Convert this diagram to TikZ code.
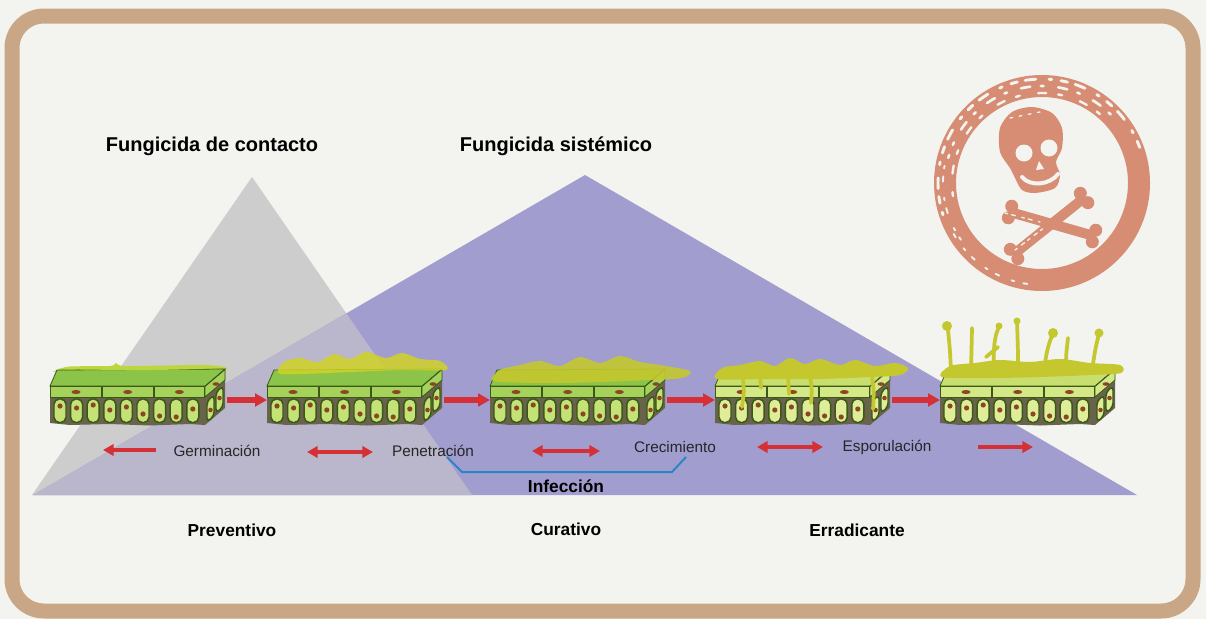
\documentclass[tikz,border=0pt]{standalone}
\usepackage{fontspec}
\setmainfont{Liberation Sans}
\usetikzlibrary{arrows.meta}

\definecolor{frame}{RGB}{201,167,134}
\definecolor{paper}{RGB}{243,243,239}
\definecolor{contactgray}{RGB}{205,205,205}
\definecolor{systemic}{RGB}{162,157,207}
\definecolor{overlap}{RGB}{186,182,204}
\definecolor{arrowred}{RGB}{212,48,54}
\definecolor{tissue}{RGB}{104,99,74}
\definecolor{cellline}{RGB}{58,88,22}
\definecolor{nucleus}{RGB}{140,70,38}
\definecolor{leafA}{RGB}{140,196,74}
\definecolor{epiA}{RGB}{164,210,90}
\definecolor{cellA}{RGB}{196,226,118}
\definecolor{leafB}{RGB}{200,222,110}
\definecolor{epiB}{RGB}{212,232,135}
\definecolor{cellB}{RGB}{224,237,152}
\definecolor{fungus}{RGB}{196,200,46}
\definecolor{fungusthin}{RGB}{190,214,62}
\definecolor{skull}{RGB}{214,141,116}
\definecolor{bracket}{RGB}{42,133,200}

\tikzset{
  stepflow/.style={draw=arrowred, line width=4.5pt, -{Triangle[length=9pt,width=9.5pt]}},
  timeflow/.style={draw=arrowred, line width=3.5pt, -{Triangle[length=8pt,width=8.5pt]}},
  timeboth/.style={draw=arrowred, line width=3.5pt, {Triangle[length=8pt,width=8.5pt]}-{Triangle[length=8pt,width=8.5pt]}},
  heading/.style={font=\fontsize{15}{18}\selectfont\bfseries},
  phase/.style={font=\fontsize{13}{16}\selectfont\bfseries},
  stagelabel/.style={font=\fontsize{11.5}{14}\selectfont, text=black!85},
  cellwall/.style={draw=cellline, line width=0.6pt},
  hypha/.style={draw=fungus, line width=2.8pt, line cap=round},
  wear/.style={draw=paper, line cap=round},
}

% one slice of leaf tissue: #1,#2 front-left corner, #3 top face, #4 epidermis, #5 palisade cells
\newcommand\leafblock[5]{%
  \begin{scope}[shift={(#1,#2)}]
    \fill[tissue] (0,0) -- (0,37) -- (20,39) -- (60,38) -- (100,39.5) -- (140,38) -- (155,39) -- (175,22) -- (175,-17) -- (155,0) -- cycle;
    \filldraw[fill=#3, cellwall] (0,0) -- (7,-16) -- (175,-17) -- (155,0) -- cycle;
    \foreach \i in {0,1,2} {
      \filldraw[fill=#4, cellwall] ({\i*51.7+0.5},0.5) rectangle ({\i*51.7+51.2},11);
      \fill[nucleus] ({\i*51.7+26},6) ellipse [x radius=4.5, y radius=2];
    }
    \filldraw[fill=#4, cellwall] (155,0.5) -- (175,-16.5) -- (175,-6) -- (155,11) -- cycle;
    \fill[nucleus] (166,-2) ellipse [x radius=3.5, y radius=1.8];
    \foreach \i/\ny in {0/20,1/22,2/19,3/24,4/21,5/28,6/30,7/31,8/23} {
      \filldraw[fill=#5, draw=cellline, line width=1.1pt, rounded corners=4pt] ({4+\i*16.6},13) rectangle ({16+\i*16.6},36.5);
      \fill[nucleus] ({10+\i*16.6},\ny) circle (2.6);
    }
    \filldraw[fill=#5, draw=cellline, line width=1.1pt, rounded corners=3pt] (157,15) -- (164,9) -- (164,30) -- (157,36) -- cycle;
    \fill[nucleus] (160.5,24) circle (2.3);
    \filldraw[fill=#5, draw=cellline, line width=1.1pt, rounded corners=3pt] (166,6) -- (173,0) -- (173,21) -- (166,27) -- cycle;
    \fill[nucleus] (169.5,12) circle (2.3);
  \end{scope}}

\begin{document}
\begin{tikzpicture}[x=0.75pt, y=-0.75pt]
\useasboundingbox (0,0) rectangle (1206,619);
\fill[paper] (0,0) rectangle (1206,619);

% fungicide ranges
\fill[contactgray] (32,495) -- (252,177) -- (472,495) -- cycle;
\fill[systemic] (33,495) -- (585,175) -- (1137,495) -- cycle;
\begin{scope}
  \clip (32,495) -- (252,177) -- (472,495) -- cycle;
  \fill[overlap] (33,495) -- (585,175) -- (1137,495) -- cycle;
\end{scope}

% frame
\draw[frame, line width=11.25pt, rounded corners=24pt] (12,16) rectangle (1193,611);

% headings
\node[heading] (contact) at (212,146) {Fungicida de contacto};
\node[heading] (systemictitle) at (556,146) {Fungicida sistémico};

% leaf tissue at each stage
\fill[fungusthin] plot[smooth cycle] coordinates {(58,370) (70,366.5) (110,366) (116,363) (126,366) (200,365) (222,366.5) (222,370) (150,371) (60,372)};
\leafblock{50}{386}{leafA}{epiA}{cellA}
\fill[fungusthin] plot[smooth cycle] coordinates {(58,369) (110,367) (200,366) (221,368) (150,370)};

\leafblock{267}{386}{leafA}{epiA}{cellA}
\fill[fungus!80!yellow, opacity=0.85] plot[smooth cycle] coordinates {(278,373) (284,362) (300,358) (318,362) (334,354) (350,359) (366,352) (386,358) (402,353) (420,359) (440,361) (446,370) (400,370) (350,372) (300,374)};

\leafblock{490}{386}{leafA}{epiA}{cellA}
\fill[fungus, opacity=0.9] plot[smooth cycle] coordinates {(494,381) (500,370) (520,365) (540,361) (560,366) (580,357) (600,363) (620,356) (640,362) (660,365) (690,371) (682,378) (650,380) (600,382) (550,383)};

\leafblock{715}{386}{leafB}{epiB}{cellB}
\fill[fungus] plot[smooth cycle] coordinates {(717,379) (722,368) (740,365) (760,361) (775,366) (790,358) (805,364) (820,359) (840,365) (855,360) (875,366) (895,363) (908,368) (900,375) (870,377) (820,379) (770,379)};
\draw[hypha] (743,376) .. controls (744,392) .. (742,407);
\draw[hypha] (788,376) -- (789,394);
\draw[hypha] (810,376) .. controls (812,390) .. (811,403);
\draw[hypha] (872,376) .. controls (874,392) .. (873,409);
\draw[hypha] (760,376) -- (761,388);

\leafblock{940}{386}{leafB}{epiB}{cellB}
\fill[fungus] plot[smooth cycle] coordinates {(942,377) (950,366) (975,363) (1000,360) (1030,362) (1060,359) (1090,363) (1120,365) (1121,373) (1090,375) (1040,377) (990,378)};
\draw[hypha] (951,372) .. controls (950,350) .. (948,330);
\fill[fungus] (947,326) circle (5);
\draw[hypha] (971,372) .. controls (972,350) .. (972,328);
\draw[hypha] (994,372) .. controls (993,345) and (995,335) .. (999,327);
\fill[fungus] (999,326) circle (3.5);
\draw[hypha] (1018,372) .. controls (1018,350) .. (1017,322);
\fill[fungus] (1017,321) circle (3.5);
\draw[hypha] (1044,372) .. controls (1046,352) and (1049,342) .. (1053,334);
\fill[fungus] (1053,333) circle (5);
\draw[hypha] (1066,372) .. controls (1066,355) .. (1068,338);
\draw[hypha] (1092,372) .. controls (1094,355) and (1096,345) .. (1099,334);
\fill[fungus] (1099,333) circle (4.5);
\draw[hypha] (986,357) -- (998,347);

% progression between stages
\coordinate (s1out) at (227,400);
\coordinate (s2in) at (267,400);
\coordinate (s2out) at (444,400);
\coordinate (s3in) at (490,400);
\coordinate (s3out) at (667,400);
\coordinate (s4in) at (715,400);
\coordinate (s4out) at (892,400);
\coordinate (s5in) at (940,400);
\draw[stepflow] (s1out) -- (s2in);
\draw[stepflow] (s2out) -- (s3in);
\draw[stepflow] (s3out) -- (s4in);
\draw[stepflow] (s4out) -- (s5in);

% stage labels and time arrows
\coordinate (t1a) at (156,450);
\coordinate (t1b) at (103,450);
\coordinate (t2a) at (307,452);
\coordinate (t2b) at (373,452);
\coordinate (t3a) at (532,451);
\coordinate (t3b) at (600,451);
\coordinate (t4a) at (757,447);
\coordinate (t4b) at (823,447);
\coordinate (t5a) at (978,447);
\coordinate (t5b) at (1033,447);
\draw[timeflow] (t1a) -- (t1b);
\draw[timeboth] (t2a) -- (t2b);
\draw[timeboth] (t3a) -- (t3b);
\draw[timeboth] (t4a) -- (t4b);
\draw[timeflow] (t5a) -- (t5b);

\node[stagelabel] (germ) at (217,451) {Germinación};
\node[stagelabel] (pen) at (433,451) {Penetración};
\node[stagelabel] (crec) at (675,447) {Crecimiento};
\node[stagelabel] (espo) at (887,447) {Esporulación};

% infection bracket
\coordinate (brA) at (447,457);
\coordinate (brB) at (462,472);
\coordinate (brC) at (672,472);
\coordinate (brD) at (686,457);
\draw[bracket, line width=1.5pt] (brA) -- (brB) -- (brC) -- (brD);
\node[phase] (inf) at (566,486) {Infección};

% treatment types
\node[phase] (prev) at (232,530) {Preventivo};
\node[phase] (cur) at (566,529) {Curativo};
\node[phase] (err) at (857,530) {Erradicante};

% skull and crossbones stamp
\draw[skull, line width=16.5pt] (1042,183) circle (97);
\fill[skull] plot[smooth cycle] coordinates {(1000,128) (1012,112) (1032,107) (1052,113) (1062,128) (1062,148) (1056,162) (1060,175) (1055,188) (1035,193) (1022,190) (1015,178) (1010,168) (1000,152)};
\fill[paper] (1024,153) circle (8.5);
\fill[paper] (1049,148) circle (8.5);
\fill[paper] (1036,170) -- (1039,161) -- (1044,169) -- cycle;
\draw[paper, line width=3pt, line cap=round] (1022,177) .. controls (1030,187) and (1050,185) .. (1058,174);
\draw[skull, line width=7.5pt] (1010,212) -- (1094,236);
\fill[skull] (1008.3,217.8) circle (6.5);
\fill[skull] (1011.7,206.2) circle (6.5);
\fill[skull] (1092.3,241.8) circle (6.5);
\fill[skull] (1095.7,230.2) circle (6.5);
\draw[skull, line width=7.5pt] (1084,198) -- (1014,254);
\fill[skull] (1087.8,202.7) circle (6.5);
\fill[skull] (1080.3,193.3) circle (6.5);
\fill[skull] (1017.8,258.7) circle (6.5);
\fill[skull] (1010.3,249.3) circle (6.5);
% worn stamp texture, mostly along the upper rim
\draw[wear, line width=2.2pt, dash pattern=on 5pt off 7pt on 2pt off 10pt on 8pt off 6pt] (1042,183) ++(-20:104) arc[start angle=-20, end angle=-200, radius=104];
\draw[wear, line width=1.8pt, dash pattern=on 3pt off 9pt on 6pt off 14pt] (1042,183) ++(-50:90) arc[start angle=-50, end angle=-190, radius=90];
\draw[wear, line width=2pt, dash pattern=on 2pt off 8pt on 7pt off 11pt] (1042,183) ++(-45:97) arc[start angle=-45, end angle=-165, radius=97];
\draw[wear, line width=1.4pt, dash pattern=on 2pt off 6pt on 4pt off 12pt] (1042,183) ++(-170:99) arc[start angle=-170, end angle=-215, radius=99];
\draw[wear, line width=1.4pt, dash pattern=on 3pt off 10pt on 2pt off 7pt] (1042,183) ++(150:102) arc[start angle=150, end angle=95, radius=102];
\draw[wear, line width=1pt, dash pattern=on 2pt off 3pt on 3pt off 5pt] (1005,213) -- (1040,222);
\draw[wear, line width=1pt, dash pattern=on 2pt off 4pt on 3pt off 3pt] (1015,250) -- (1045,227);
\draw[wear, line width=1pt, dash pattern=on 2pt off 5pt] (1010,118) -- (1040,112);
\end{tikzpicture}
\end{document}
